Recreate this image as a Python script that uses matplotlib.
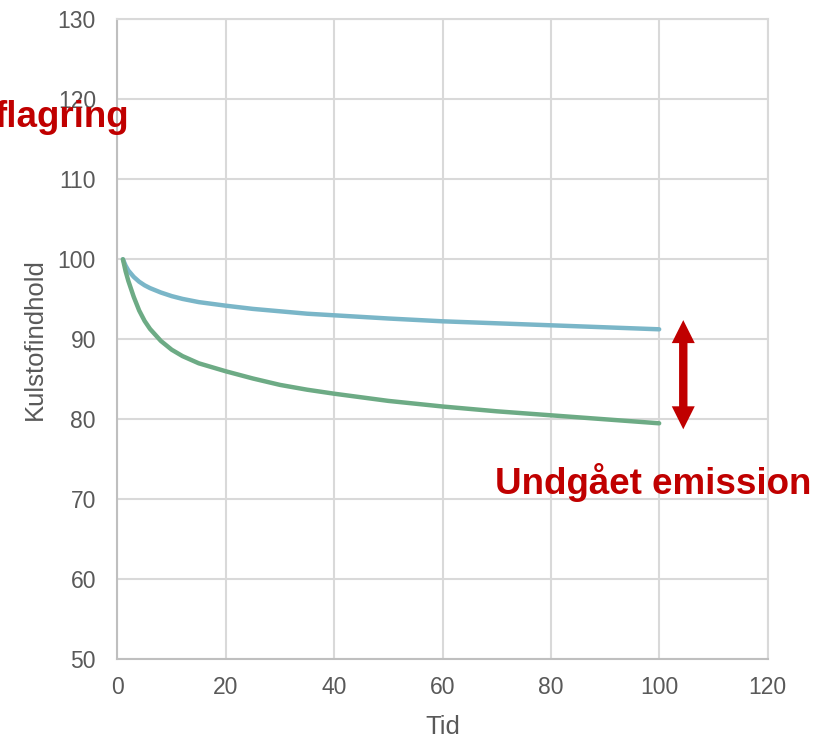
import matplotlib
matplotlib.use("Agg")
import matplotlib.pyplot as plt

plt.rcParams['font.family'] = ['Liberation Sans', 'DejaVu Sans']

# Data
tid = [1, 1.5, 2, 3, 4, 5, 6, 8, 10, 12, 15, 20, 25, 30, 35, 40, 50, 60, 70, 80, 90, 100]
blue = [100, 99.2, 98.6, 97.8, 97.2, 96.75, 96.4, 95.85, 95.4, 95.05, 94.65, 94.2, 93.8,
        93.5, 93.2, 93.0, 92.6, 92.25, 92.0, 91.75, 91.5, 91.25]
green = [100, 98.5, 97.3, 95.3, 93.6, 92.3, 91.3, 89.8, 88.7, 87.9, 87.0, 86.0, 85.1,
         84.3, 83.7, 83.2, 82.3, 81.6, 81.0, 80.5, 80.0, 79.5]
x_ticks = [0, 20, 40, 60, 80, 100, 120]
y_ticks = [50, 60, 70, 80, 90, 100, 110, 120, 130]
arrow_x = 104.45
arrow_top = 92.4
arrow_bottom = 78.75

W, H = 819, 738
fig = plt.figure(figsize=(W / 100, H / 100), dpi=100)
L, R, T, B = 117.5, 767.5, 19.3, 659.3
ax = fig.add_axes([L / W, 1 - B / H, (R - L) / W, (B - T) / H])

grid_c = '#D9D9D9'
ax.set_xlim(0, 120)
ax.set_ylim(50, 130)
ax.set_xticks(x_ticks)
ax.set_yticks(y_ticks)
ax.grid(True, color=grid_c, linewidth=1.5)
ax.set_axisbelow(True)
for s in ['top', 'right']:
    ax.spines[s].set_color(grid_c)
    ax.spines[s].set_linewidth(1.5)
for s in ['left', 'bottom']:
    ax.spines[s].set_color('#BFBFBF')
    ax.spines[s].set_linewidth(1.5)
ax.tick_params(length=0, labelsize=16.5, labelcolor='#595959')
ax.tick_params(axis='x', pad=11.8)
ax.tick_params(axis='y', pad=15.5)

ax.plot(tid, blue, color='#7AB6C8', lw=3.2, solid_capstyle='round',
        solid_joinstyle='round', zorder=3)
ax.plot(tid, green, color='#6DAB85', lw=3.2, solid_capstyle='round',
        solid_joinstyle='round', zorder=3)

# Double arrow
red = '#C00000'
px_x = (R - L) / 120
px_y = (B - T) / 80
shaft_w = 8 / px_x
head_w = 23 / px_x
head_l = 23 / px_y
for start, end in ((arrow_bottom + head_l * 0.9, arrow_top),
                   (arrow_top - head_l * 0.9, arrow_bottom)):
    ax.arrow(arrow_x, start, 0, end - start, width=shaft_w, head_width=head_w,
             head_length=head_l, length_includes_head=True, color=red, lw=0,
             zorder=4, clip_on=False)

fig.text(495 / W, 1 - 494 / H, 'Undgået emission', color=red, fontsize=26.5,
         fontweight='bold', ha='left', va='baseline')
fig.text(129 / W, 1 - 127 / H, 'flagring', color=red, fontsize=26.5,
         fontweight='bold', ha='right', va='baseline', zorder=5)

fig.text(35 / W, 1 - 339.5 / H, 'Kulstofindhold', rotation=90, fontsize=18.5,
         color='#595959', ha='center', va='center')
fig.text(442.5 / W, 1 - 734 / H, 'Tid', fontsize=18.5, color='#595959',
         ha='center', va='baseline')

fig.savefig('out.png', dpi=100)
